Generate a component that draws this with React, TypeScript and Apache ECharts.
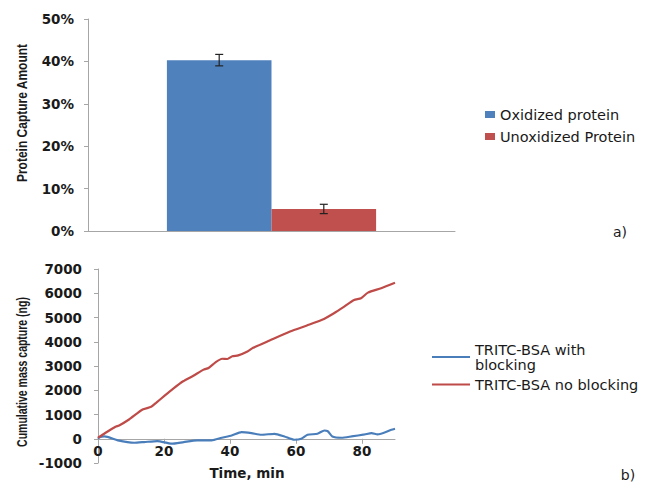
import React, { useEffect, useRef } from "react";
import * as echarts from "echarts";

// ---- Data: panel a) ----
const barCategories = ["Protein"];
const barSeriesNames = ["Oxidized protein", "Unoxidized Protein"];
const oxidizedValues = [40.3];
const oxidizedErrors = [1.35];
const unoxidizedValues = [5.2];
const unoxidizedErrors = [1.1];

// ---- Data: panel b) ----
const lineSeriesNames = ["TRITC-BSA with blocking", "TRITC-BSA no blocking"];
const noBlockTime = [0, 2.3, 5.3, 6.4, 9.4, 13.5, 16.1, 17.6, 20.2, 22.8, 25.8, 28.9, 32, 33.5, 35.6, 37.6, 39.2, 40.7, 42.5, 45.3, 47, 52, 58.2, 63.3, 67.9, 71.5, 74.6, 77.6, 79.7, 81.8, 85.8, 90];
const noBlockMass = [40, 247, 493, 548, 795, 1205, 1315, 1480, 1780, 2068, 2370, 2600, 2850, 2918, 3150, 3300, 3288, 3400, 3440, 3600, 3750, 4053, 4423, 4670, 4903, 5178, 5450, 5725, 5795, 6026, 6206, 6430];
const blockTime = [0, 0.5, 2, 6, 11, 14, 18, 22.3, 26, 30, 34.4, 37.5, 40.5, 43.5, 46.5, 49.5, 53.5, 56.5, 59.5, 61.6, 63.5, 66.5, 68.6, 69.6, 71, 73.8, 76.8, 80.8, 82.9, 84.7, 88.9, 90];
const blockMass = [0, 68, 95, -68, -164, -136, -95, -205, -136, -68, -68, 41, 136, 273, 232, 164, 205, 95, -41, 0, 164, 205, 341, 314, 95, 41, 95, 177, 232, 177, 368, 410];

const TEXT = "#1a1a1a";
const AXIS = "#a6a6a6";
const BAR_GAP = 0.43;

// bottom grid geometry (used to put the time axis on the zero line)
const G2_TOP = 269;
const G2_HEIGHT = 194;
const Y2_MIN = -1000;
const Y2_MAX = 7000;

export default function App() {
  const ref = useRef<HTMLDivElement>(null);

  useEffect(() => {
    if (!ref.current) return;
    const chart = echarts.init(ref.current, null, { renderer: "svg" });

    const errData = [
      [0, oxidizedValues[0] - oxidizedErrors[0], oxidizedValues[0] + oxidizedErrors[0], 0],
      [0, unoxidizedValues[0] - unoxidizedErrors[0], unoxidizedValues[0] + unoxidizedErrors[0], 1],
    ];

    const tickFont = { color: TEXT, fontFamily: "DejaVu Sans", fontWeight: "bold" as const, fontSize: 13.5 };
    const zeroOffset = -((0 - Y2_MIN) / (Y2_MAX - Y2_MIN)) * G2_HEIGHT;

    chart.setOption({
      animation: false,
      backgroundColor: "#ffffff",
      grid: [
        { left: 88, top: 19, width: 367, height: 212 },
        { left: 98, top: G2_TOP, width: 297, height: G2_HEIGHT },
      ],
      legend: [
        {
          data: barSeriesNames,
          orient: "vertical",
          left: 485,
          top: 107,
          padding: 0,
          icon: "rect",
          itemWidth: 10,
          itemHeight: 7,
          itemGap: 7,
          textStyle: { color: TEXT, fontFamily: "DejaVu Sans", fontSize: 14.5 },
        },
        {
          data: lineSeriesNames,
          orient: "vertical",
          left: 432,
          top: 342,
          padding: 0,
          icon: "rect",
          itemWidth: 38,
          itemHeight: 2,
          itemGap: 5,
          textStyle: { color: TEXT, fontFamily: "DejaVu Sans", fontSize: 14.5, lineHeight: 15 },
          formatter: (name: string) => (name === "TRITC-BSA with blocking" ? "TRITC-BSA with\nblocking" : name),
        },
      ],
      xAxis: [
        {
          gridIndex: 0,
          type: "category",
          data: barCategories,
          axisLine: { lineStyle: { color: AXIS } },
          axisTick: { show: false },
          axisLabel: { show: false },
        },
        {
          gridIndex: 1,
          type: "value",
          min: 0,
          max: 90,
          interval: 20,
          position: "bottom",
          offset: zeroOffset,
          splitLine: { show: false },
          axisLine: { onZero: false, lineStyle: { color: AXIS } },
          axisTick: { length: 5, lineStyle: { color: AXIS } },
          axisLabel: { ...tickFont, margin: 5, showMaxLabel: false },
        },
      ],
      yAxis: [
        {
          gridIndex: 0,
          type: "value",
          min: 0,
          max: 50,
          interval: 10,
          splitLine: { show: false },
          axisLine: { show: true, lineStyle: { color: AXIS } },
          axisTick: { show: true, length: 4, lineStyle: { color: AXIS } },
          axisLabel: { ...tickFont, margin: 14, formatter: (v: number) => `${v}%` },
        },
        {
          gridIndex: 1,
          type: "value",
          min: Y2_MIN,
          max: Y2_MAX,
          interval: 1000,
          splitLine: { show: false },
          axisLine: { show: true, onZero: false, lineStyle: { color: AXIS } },
          axisTick: { show: true, length: 4, lineStyle: { color: AXIS } },
          axisLabel: { ...tickFont, margin: 16, formatter: (v: number) => String(v) },
        },
      ],
      series: [
        {
          name: barSeriesNames[0],
          type: "bar",
          xAxisIndex: 0,
          yAxisIndex: 0,
          data: oxidizedValues,
          barGap: "0%",
          barCategoryGap: `${BAR_GAP * 100}%`,
          itemStyle: { color: "#4f81bd" },
        },
        {
          name: barSeriesNames[1],
          type: "bar",
          xAxisIndex: 0,
          yAxisIndex: 0,
          data: unoxidizedValues,
          barGap: "0%",
          barCategoryGap: `${BAR_GAP * 100}%`,
          itemStyle: { color: "#c0504d" },
        },
        {
          name: "errors",
          type: "custom",
          xAxisIndex: 0,
          yAxisIndex: 0,
          data: errData,
          encode: { x: 0, y: [1, 2] },
          z: 10,
          renderItem: (params: any, api: any) => {
            const cat = api.value(0);
            const low = api.value(1);
            const high = api.value(2);
            const idx = api.value(3);
            const center = api.coord([cat, 0])[0];
            const band = api.size([1, 0])[0];
            const barW = (band * (1 - BAR_GAP)) / 2;
            const x = center + (idx - 0.5) * barW;
            const yl = api.coord([cat, low])[1];
            const yh = api.coord([cat, high])[1];
            const cap = 4;
            const style = { stroke: "#222222", lineWidth: 1.2 };
            return {
              type: "group",
              children: [
                { type: "line", shape: { x1: x, y1: yl, x2: x, y2: yh }, style },
                { type: "line", shape: { x1: x - cap, y1: yl, x2: x + cap, y2: yl }, style },
                { type: "line", shape: { x1: x - cap, y1: yh, x2: x + cap, y2: yh }, style },
              ],
            };
          },
        },
        {
          name: lineSeriesNames[0],
          type: "line",
          xAxisIndex: 1,
          yAxisIndex: 1,
          showSymbol: false,
          symbol: "none",
          smooth: 0.2,
          data: blockTime.map((t, i) => [t, blockMass[i]]),
          lineStyle: { color: "#4a7ebb", width: 2.2 },
          itemStyle: { color: "#4a7ebb" },
        },
        {
          name: lineSeriesNames[1],
          type: "line",
          xAxisIndex: 1,
          yAxisIndex: 1,
          showSymbol: false,
          symbol: "none",
          smooth: 0.2,
          data: noBlockTime.map((t, i) => [t, noBlockMass[i]]),
          lineStyle: { color: "#be4b48", width: 2.2 },
          itemStyle: { color: "#be4b48" },
        },
      ],
      graphic: [
        {
          type: "text",
          x: 22,
          y: 113,
          rotation: Math.PI / 2,
          scaleX: 0.8,
          style: {
            text: "Protein Capture Amount",
            align: "center",
            verticalAlign: "middle",
            fill: TEXT,
            font: "bold 15px 'Liberation Sans', sans-serif",
          },
        },
        {
          type: "text",
          x: 22,
          y: 372,
          rotation: Math.PI / 2,
          scaleX: 0.75,
          style: {
            text: "Cumulative mass capture (ng)",
            align: "center",
            verticalAlign: "middle",
            fill: TEXT,
            font: "bold 14px 'Liberation Sans', sans-serif",
          },
        },
        {
          type: "text",
          x: 247,
          y: 473,
          style: {
            text: "Time, min",
            align: "center",
            verticalAlign: "middle",
            fill: TEXT,
            font: "bold 13.5px 'DejaVu Sans', sans-serif",
          },
        },
        {
          type: "text",
          x: 620,
          y: 232,
          style: { text: "a)", align: "center", verticalAlign: "middle", fill: TEXT, font: "14px 'DejaVu Sans', sans-serif" },
        },
        {
          type: "text",
          x: 628,
          y: 475,
          style: { text: "b)", align: "center", verticalAlign: "middle", fill: TEXT, font: "14px 'DejaVu Sans', sans-serif" },
        },
      ],
    });

    return () => chart.dispose();
  }, []);

  return (
    <div
      ref={ref}
      style={{ position: "fixed", left: 0, top: 0, width: 645, height: 485, background: "#fff" }}
    />
  );
}
